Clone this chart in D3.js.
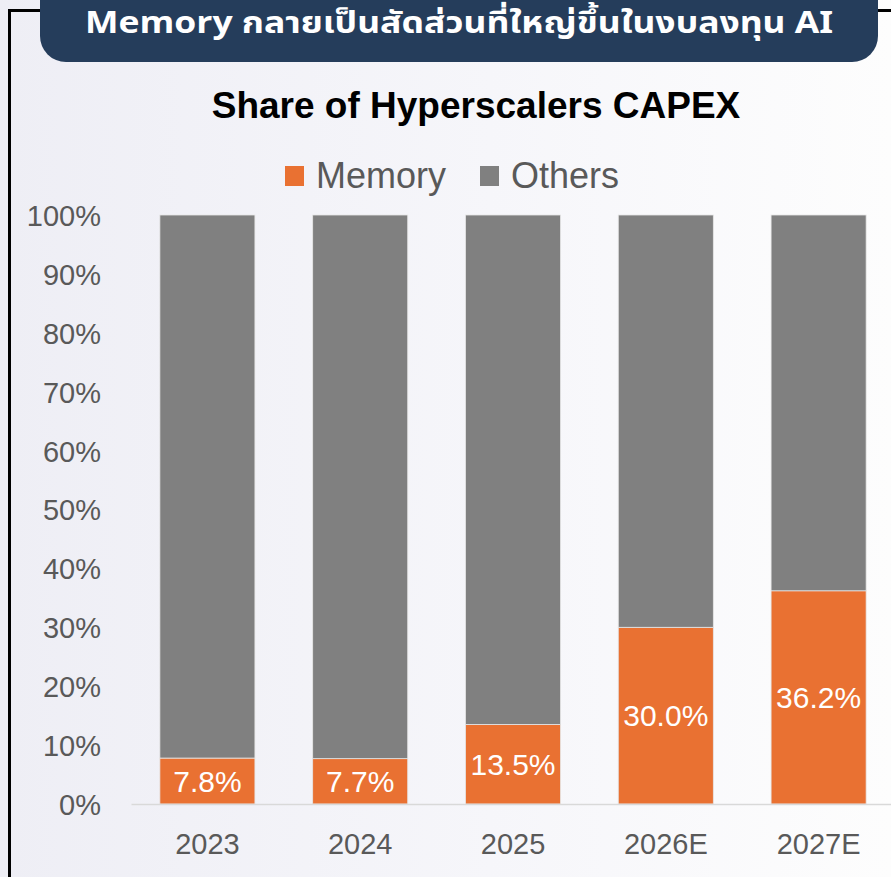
<!DOCTYPE html>
<html>
<head>
<meta charset="utf-8">
<script src="https://cdn.jsdelivr.net/npm/d3@7"></script>
<style>
  body { margin: 0; background: #fff; }
  svg { display: block; }
</style>
</head>
<body>
<div id="chart"></div>
<script>
var wt = 891;
var ht = 877;

var categories = ["2023", "2024", "2025", "2026E", "2027E"];
var memory = [7.8, 7.7, 13.5, 30.0, 36.2];
var others = memory.map(function (m) { return 100 - m; });
var memoryLabels = ["7.8%", "7.7%", "13.5%", "30.0%", "36.2%"];
var yTicks = [0, 10, 20, 30, 40, 50, 60, 70, 80, 90, 100];
var seriesNames = ["Memory", "Others"];
var colors = { Memory: "#e97132", Others: "#808080" };

var svg = d3.select("#chart").append("svg")
    .attr("width", wt)
    .attr("height", ht);

// background
var defs = svg.append("defs");
var grad = defs.append("linearGradient")
    .attr("id", "bg")
    .attr("x1", "0").attr("x2", "1").attr("y1", "0").attr("y2", "0");
grad.append("stop").attr("offset", "0%").attr("stop-color", "#eeeef5");
grad.append("stop").attr("offset", "55%").attr("stop-color", "#f6f6fa");
grad.append("stop").attr("offset", "100%").attr("stop-color", "#fdfdfd");
svg.append("rect")
    .attr("width", wt)
    .attr("height", ht)
    .attr("fill", "url(#bg)");

// frame lines
svg.append("path")
    .attr("d", "M9.5," + ht + " V10.5 H60 M860,10.5 H" + wt)
    .attr("fill", "none")
    .attr("stroke", "#000")
    .attr("stroke-width", 3);

// banner
svg.append("path")
    .attr("d", "M40,-10 H878 V36 A26,26 0 0 1 852,62 H66 A26,26 0 0 1 40,36 Z")
    .attr("fill", "#253d5b");
svg.append("text")
    .attr("x", 459)
    .attr("y", 33)
    .attr("text-anchor", "middle")
    .attr("fill", "#fff")
    .attr("textLength", 748)
    .attr("lengthAdjust", "spacingAndGlyphs")
    .style("font-family", "'Noto Sans Thai', 'Noto Sans', sans-serif")
    .style("font-weight", "bold")
    .style("font-size", "30px")
    .text("Memory กลายเป็นสัดส่วนที่ใหญ่ขึ้นในงบลงทุน AI");

// title
svg.append("text")
    .attr("x", 476)
    .attr("y", 118)
    .attr("text-anchor", "middle")
    .attr("fill", "#000")
    .style("font-family", "'Liberation Sans', Arial, sans-serif")
    .style("font-weight", "bold")
    .style("font-size", "37px")
    .text("Share of Hyperscalers CAPEX");

// legend
var legendX = [285, 480];
var legend = svg.append("g").attr("class", "legend");
seriesNames.forEach(function (name, i) {
    legend.append("rect")
        .attr("x", legendX[i])
        .attr("y", 166)
        .attr("width", 19)
        .attr("height", 20)
        .attr("fill", colors[name]);
    legend.append("text")
        .attr("x", legendX[i] + 31)
        .attr("y", 188)
        .attr("fill", "#595959")
        .style("font-family", "'Liberation Sans', Arial, sans-serif")
        .style("font-size", "36px")
        .text(name);
});

// scales
var x = d3.scaleBand()
    .domain(categories)
    .range([131, 895])
    .paddingInner(0.378)
    .paddingOuter(0.189);

var y = d3.scaleLinear()
    .domain([0, 100])
    .range([804, 215]);

var rows = categories.map(function (c, i) {
    return { cat: c, Memory: memory[i], Others: others[i] };
});
var stack = d3.stack().keys(seriesNames)(rows);

var g = svg.append("g");
g.selectAll("g.series")
    .data(stack)
    .enter().append("g")
    .attr("class", "series")
    .attr("fill", function (d) { return colors[d.key]; })
    .selectAll("rect")
    .data(function (d) { return d; })
    .enter().append("rect")
    .attr("x", function (d) { return x(d.data.cat); })
    .attr("y", function (d) { return y(d[1]); })
    .attr("width", x.bandwidth())
    .attr("height", function (d) { return y(d[0]) - y(d[1]); })
    .attr("stroke", "#e6e6e6")
    .attr("stroke-width", 0.8);

// data labels
g.selectAll("text.lbl")
    .data(rows)
    .enter().append("text")
    .attr("class", "lbl")
    .attr("x", function (d) { return x(d.cat) + x.bandwidth() / 2; })
    .attr("y", function (d) { return (y(0) + y(d.Memory)) / 2; })
    .attr("dy", "0.36em")
    .attr("text-anchor", "middle")
    .attr("fill", "#fff")
    .style("font-family", "'Liberation Sans', Arial, sans-serif")
    .style("font-size", "30px")
    .text(function (d, i) { return memoryLabels[i]; });

// x axis
var xAxis = svg.append("g")
    .attr("transform", "translate(0,804)")
    .call(d3.axisBottom(x).tickSize(0).tickPadding(29));
xAxis.select(".domain")
    .attr("stroke", "#d9d9d9")
    .attr("stroke-width", 1.5);
xAxis.selectAll("text")
    .attr("fill", "#595959")
    .style("font-family", "'Liberation Sans', Arial, sans-serif")
    .style("font-size", "29px");

// y axis
var yAxis = svg.append("g")
    .attr("transform", "translate(101,0)")
    .call(d3.axisLeft(y).tickValues(yTicks).tickSize(0).tickPadding(0)
        .tickFormat(function (d) { return d + "%"; }));
yAxis.select(".domain").remove();
yAxis.selectAll("text")
    .attr("fill", "#595959")
    .attr("dy", "0.36em")
    .style("font-family", "'Liberation Sans', Arial, sans-serif")
    .style("font-size", "29px");
</script>
</body>
</html>
